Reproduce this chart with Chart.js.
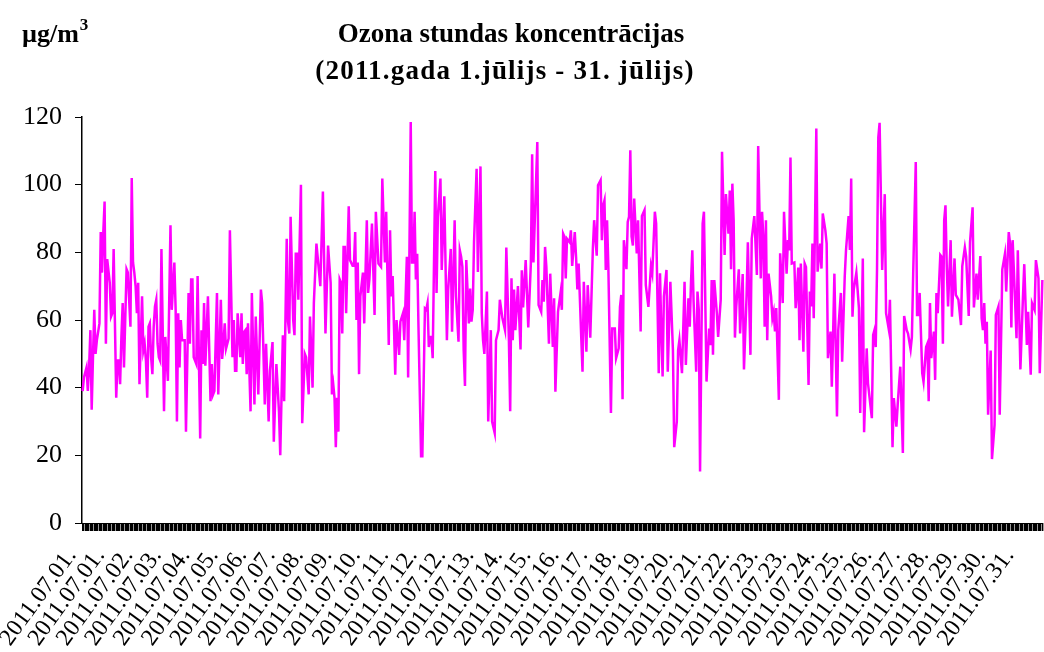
<!DOCTYPE html>
<html>
<head>
<meta charset="utf-8">
<script src="https://cdn.jsdelivr.net/npm/chart.js@4.4.0/dist/chart.umd.min.js"></script>
<style>
  html, body { margin: 0; padding: 0; background: #fff; }
</style>
</head>
<body>
<canvas id="ozoneChart" width="1044" height="652"></canvas>
<script>
const titleLines = ['Ozona stundas koncentrācijas', '(2011.gada 1.jūlijs - 31. jūlijs)'];
const unitText = 'µg/m';
const unitSup = '3';

const dayLabels = [
  '2011.07.01.', '2011.07.02.', '2011.07.03.', '2011.07.04.', '2011.07.05.', '2011.07.06.',
  '2011.07.07.', '2011.07.08.', '2011.07.09.', '2011.07.10.', '2011.07.11.', '2011.07.12.',
  '2011.07.13.', '2011.07.14.', '2011.07.15.', '2011.07.16.', '2011.07.17.', '2011.07.18.',
  '2011.07.19.', '2011.07.20.', '2011.07.21.', '2011.07.22.', '2011.07.23.', '2011.07.24.',
  '2011.07.25.', '2011.07.26.', '2011.07.27.', '2011.07.28.', '2011.07.29.', '2011.07.30.',
  '2011.07.31.'
];
const hoursPerDay = 24;
const labelEvery = 22;

// hour of the month (0 = 1 July 00:00) and the reading at that hour
const readHours = [
  0, 1, 3, 4, 5, 6, 7, 8, 9, 10, 11, 13, 14, 15, 16, 17, 18, 19, 21, 22, 23, 24, 26, 27, 28, 29, 30, 31, 32, 34,
  35, 37, 38, 39, 40, 41, 42, 43, 44, 46, 47, 48, 49, 50, 51, 52, 53, 54, 55, 56, 57, 58, 59, 60, 61, 63, 64, 66, 68, 69,
  71, 72, 73, 74, 75, 76, 77, 78, 79, 80, 82, 83, 84, 85, 86, 88, 89,
  91, 92, 93, 94, 95, 97, 99, 100, 101, 102, 104, 105, 107, 108, 109, 110, 111, 113, 114, 116,
  117, 118, 119, 120, 122, 123, 124, 125, 126, 127, 128, 130, 131, 133, 134, 136, 138, 139, 141, 142,
  144, 145, 147, 148, 150, 152, 153, 155, 156, 158, 159, 160, 161, 163, 164, 165, 166, 167, 169, 170,
  172, 173, 175, 176, 178, 179, 181,
  184, 186, 188, 190, 192, 193, 194, 195, 196, 197, 198, 199, 200, 201, 202, 203, 204, 206, 207, 209,
  210, 211, 212, 213, 214, 215, 217, 218, 220, 221, 222, 224, 226, 227, 229, 231, 232, 234, 235, 237,
  238, 239, 240, 242, 243, 245, 246, 248, 249, 251, 252, 254, 255, 256, 257, 258, 259, 260, 262, 263,
  265, 266, 267, 268, 269, 270, 271, 273, 274, 275,
  277, 278, 280, 282, 283, 285, 286, 288, 289, 291, 292, 293, 294, 295, 296, 297, 299, 300, 301, 302,
  303, 305, 306, 308, 309, 310, 311, 313, 314, 316, 317, 319, 320, 322, 323, 325, 327, 328, 330, 331,
  332, 333, 334, 335, 337, 339, 340, 341, 343, 345, 347, 348, 349, 352, 353, 355, 356, 357, 358, 359,
  361, 362, 364, 365, 366, 368,
  370, 371, 372, 373, 374, 375, 377, 378, 379, 381, 382, 383, 384, 386, 387, 388, 390, 391, 393, 395,
  396, 398, 399, 401, 402, 403, 404, 405, 406, 407, 409, 410, 412, 413, 415, 416, 417, 418, 419, 421,
  422, 423, 424, 425, 426, 427, 429, 430, 432, 433, 435, 436, 438, 440, 441, 443, 444, 446, 447, 448,
  449, 450, 452, 453, 455, 457, 458, 460, 461,
  462, 464, 466, 467, 469, 470, 471, 472, 473, 475, 476, 477, 478, 480, 481, 483, 485, 486, 487, 488,
  489, 491, 492, 494, 495, 497, 498, 500, 501, 502, 503, 504, 505, 506, 508, 509, 511, 512, 514, 515,
  517, 518, 520, 522, 523, 525, 526, 527, 528, 529, 530, 531, 533, 534, 535, 536, 537, 539, 540, 542,
  543, 545, 546, 547, 548, 549, 551, 552, 553, 554,
  555, 556, 558, 559, 560, 562, 563, 564, 565, 566, 568, 569, 571, 572, 573, 575, 576, 577, 579, 580,
  581, 582, 584, 585, 587, 588, 590, 591, 593, 594, 595, 596, 597, 599, 601, 602, 604, 605, 607, 608,
  610, 611, 612, 613, 614, 615, 616, 617, 619, 621, 622, 624, 625, 627, 628, 630, 631, 633, 635, 636,
  638, 639, 641, 642, 643, 645, 646, 647,
  648, 650, 651, 653, 654, 655, 656, 657, 659, 660, 661, 662, 664, 665, 666, 667, 668, 669, 670, 672,
  673, 675, 676, 678, 680, 681, 683, 684, 686, 687, 689, 690, 692, 693, 695, 696, 697, 698, 699, 700,
  701, 703, 704, 706, 707, 709, 710, 712, 714, 715, 717, 718, 719, 720, 721, 723, 724, 726, 728, 729,
  731, 732, 734, 735, 737, 738, 740, 741, 743
];
const ozone = [
  39, 43, 46, 39, 46, 57, 33.5, 49, 63, 50, 54, 59, 86, 74, 86, 95, 53, 78, 71, 61, 62, 81, 37, 48, 48, 41, 55, 65, 46, 75,
  74, 58, 102, 77, 74, 70, 62, 71, 41, 67, 51, 53, 48, 37, 58, 59, 49, 44, 58, 64, 66, 53, 49, 48, 81, 33, 55, 42, 88, 63,
  77, 63, 30, 62, 46, 60, 54, 54, 54, 27, 68, 53, 72, 72, 49, 47, 73,
  25, 57, 47, 65, 46.5, 67, 36, 47, 38, 39, 68, 38, 66, 48.5, 53, 59, 51.5, 54.5, 86.5, 49,
  60, 45, 45, 62, 49, 62, 47, 56.5, 57, 44, 59, 33, 68, 35, 61, 38, 69, 65, 35, 53,
  30, 45, 53.5, 24, 47, 33, 20, 55.5, 36, 84, 59.5, 56, 90.5, 60, 55.5, 79.6, 79.6, 66, 100, 29.5,
  50, 49, 38, 61, 40, 65, 82.6,
  70, 98, 56, 82, 71, 38, 41, 37, 22.4, 37, 27, 72, 71, 56, 81.6, 81.6, 62, 93.6, 77.7, 76,
  76, 86, 60, 77, 44, 67, 74, 59, 89.5, 68, 72, 88.5, 61.5, 92, 76.7, 75.7, 101.8, 77, 92, 52.6,
  86.5, 67, 73, 43.8, 60, 49.7, 59.5, 62, 54, 78.7, 43, 118.5, 77, 77, 92, 72, 79.6, 58, 19.7, 19.7,
  63.4, 63, 65, 52, 55, 55, 48.7, 104, 68, 90.5,
  101.8, 74.8, 96.6, 54, 69, 81, 56.5, 89.5, 67, 53.6, 80.6, 78.7, 75.7, 51, 40.5, 77.7, 59, 69.3, 59.5, 63,
  83, 104.7, 74.2, 105.4, 62, 54, 50, 68.4, 30, 57, 30, 26.6, 54, 57, 66, 60.5, 57, 81.4, 54, 33,
  72.3, 54, 69, 57, 70, 51.3, 74.7, 63.7, 77.7, 57.8, 76.7, 109, 77, 112.6, 64.4, 62.4, 71.8, 65.4, 81.6, 75.7,
  53, 73.7, 52, 66.4, 38.8, 62.4,
  68, 63, 85.5, 84.6, 72.3, 84, 83, 86.5, 76, 86, 78.7, 69, 76.7, 55, 44.7, 71.3, 50.6, 70.3, 54.8, 81,
  89.5, 79, 99.8, 101.3, 83.6, 93.9, 95.4, 74.8, 89.5, 75.7, 32.5, 57.5, 57.5, 48.7, 51.6, 63.9, 67.4, 36.6, 83.6, 75,
  89, 90.5, 110.2, 84.6, 82, 95.9, 79.7, 89.5, 56.6, 90.7, 92.5, 70.3, 63.9, 75.9, 73.8, 92, 88.5, 44.3, 73.8, 56.6,
  43.3, 67, 74.8, 44.7, 71.3, 51, 22.4, 30, 51,
  54, 44.3, 71.3, 46.7, 66.4, 58, 71.3, 80.6, 65.4, 44.7, 68.4, 63, 15.2, 88.5, 92, 41.8, 57.5, 52.6, 71.8, 49.7,
  71.8, 62, 55, 66, 109.7, 79.2, 97.2, 85.5, 98.3, 75, 100.3, 89.5, 54.8, 63.9, 75, 56, 73.6, 45.4, 67, 83,
  49.7, 84, 90.7, 73.3, 111.4, 72.3, 92, 84.6, 58, 89.5, 54, 73.7, 67, 60.5, 62.4, 56.6, 63.5, 36.4, 79.7, 65,
  92, 73.7, 83.6, 80.6, 108, 76.7, 77, 63.5, 68.4, 75.5,
  54, 76.7, 50.6, 76.7, 75.7, 40.8, 68.4, 64, 82.6, 60.5, 116.6, 74.3, 82.6, 75.2, 91.5, 86.5, 82.6, 48.7, 56.6, 40.3,
  55.6, 73.7, 31.5, 57, 68, 47.7, 72.8, 80.7, 90.7, 80.7, 101.8, 61, 69, 74, 63.5, 32.5, 78.2, 26.8, 51.6, 41.3,
  34.4, 31, 55.6, 57, 52, 75, 114, 118.3, 74.8, 97.2, 62, 57.5, 66, 22.4, 36.9, 28.5, 35, 46.2, 20.7, 61.2,
  57, 56, 51.3, 55, 73.6, 106.7, 61.5, 61.5,
  68, 44.3, 41.8, 52, 53, 36, 65, 48.7, 56.6, 42.3, 68, 62, 79.2, 78.7, 53, 89.5, 93.9, 75.7, 64, 83.6,
  61, 78.2, 67.4, 66, 58.5, 75.9, 81.4, 78.7, 61.2, 83, 93.3, 63.7, 73.7, 66, 78.9, 60.5, 57, 65, 53, 59.5,
  32, 51, 18.9, 29, 61.5, 64, 32, 75, 79.5, 68.4, 86, 82.6, 57.8, 83.6, 74.2, 54.6, 80.6, 45.4, 67, 76.5,
  52.6, 62.4, 43.8, 65, 63, 77.7, 72.3, 44.3, 71.8
];

const serif = '"Liberation Serif", "Times New Roman", serif';

// one category per hour, each carrying its day's label
const hourLabels = [];
dayLabels.forEach(function (d) {
    for (let h = 0; h < hoursPerDay; h++) hourLabels.push(d);
});
const hourly = hourLabels.map(function () { return null; });
readHours.forEach(function (h, i) { hourly[h] = ozone[i]; });

// title and unit are drawn over the top of the canvas
const headerText = {
    id: 'headerText',
    afterDraw(chart) {
        const c = chart.ctx;
        c.save();
        c.fillStyle = '#000';
        c.textBaseline = 'alphabetic';
        c.font = 'bold 27px ' + serif;
        c.textAlign = 'center';
        c.fillText(titleLines[0], 511, 42);
        c.letterSpacing = '1.2px';
        c.fillText(titleLines[1], 505, 79);
        c.letterSpacing = '0px';
        c.font = 'bold 26px ' + serif;
        c.textAlign = 'left';
        c.fillText(unitText, 22, 42);
        const w = c.measureText(unitText).width;
        c.font = 'bold 17px ' + serif;
        c.fillText(unitSup, 22 + w + 1, 30);
        c.restore();
    }
};

const ctx = document.getElementById('ozoneChart').getContext('2d');
const chart = new Chart(ctx, {
    type: 'line',
    data: {
        labels: hourLabels,
        datasets: [{
            label: 'Ozons',
            data: hourly,
            borderColor: '#ff00ff',
            borderWidth: 2.5,
            pointRadius: 0,
            tension: 0,
            spanGaps: true
        }]
    },
    options: {
        responsive: false,
        animation: false,
        layout: { padding: { top: 117, right: 1, left: 0, bottom: 0 } },
        plugins: {
            legend: { display: false },
            tooltip: { enabled: false }
        },
        scales: {
            x: {
                type: 'category',
                offset: true,
                grid: { drawOnChartArea: false, color: '#000', tickLength: 8, lineWidth: 1.4 },
                border: { color: '#000', width: 1 },
                ticks: {
                    autoSkip: false,
                    minRotation: 54,
                    maxRotation: 54,
                    padding: 12,
                    labelOffset: -11,
                    color: '#000',
                    font: { family: serif, size: 24 },
                    callback: function (val, idx) {
                        return idx % labelEvery === 0 ? this.getLabelForValue(val) : '';
                    }
                },
                afterFit: function (s) {
                    s.height = 129;
                    s.paddingLeft = 0;
                    s.paddingRight = 0;
                }
            },
            y: {
                min: 0,
                max: 120,
                ticks: { stepSize: 20, padding: 13, color: '#000', font: { family: serif, size: 26 } },
                grid: { drawOnChartArea: false, color: '#000', tickLength: 7 },
                border: { color: '#000', width: 1.5 },
                afterFit: function (s) {
                    s.width = 82;
                }
            }
        }
    },
    plugins: [headerText]
});
</script>
</body>
</html>
